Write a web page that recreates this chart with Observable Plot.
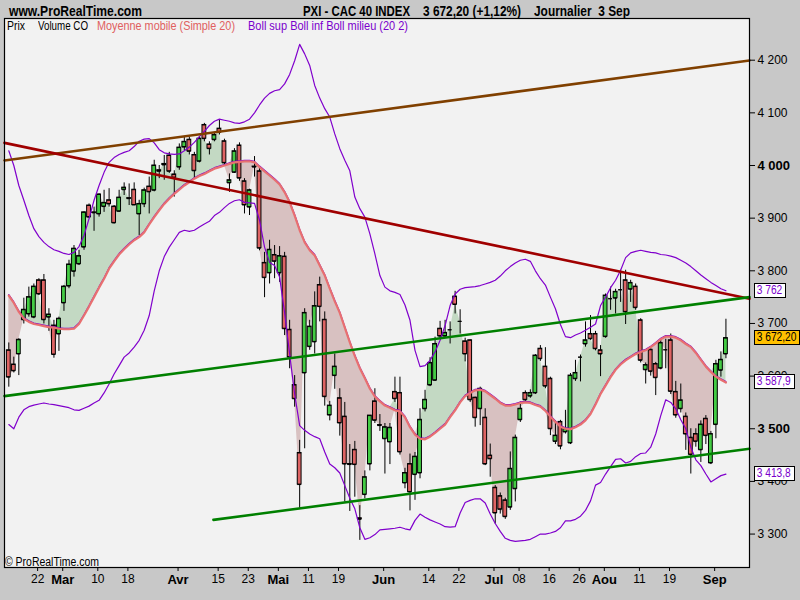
<!DOCTYPE html>
<html><head><meta charset="utf-8">
<script src="https://cdn.jsdelivr.net/npm/d3@7"></script>
<script src="https://cdn.jsdelivr.net/npm/@observablehq/plot@0.6"></script>
<style>
html,body{margin:0;padding:0;}
body{background:#c8c8c8;width:800px;height:600px;overflow:hidden;position:relative;font-family:Arial,"Liberation Sans",sans-serif;}
#chart{position:absolute;left:0;top:0;}
.abs{position:absolute;white-space:pre;line-height:1;display:inline-block;transform-origin:0 50%;}
.hdr{top:3px;font-weight:bold;font-size:15px;color:#000;}
.leg{top:20px;font-size:12.5px;}
.tag{position:absolute;left:754px;height:13px;line-height:13px;border:1px solid #000;font-size:12px;white-space:pre;overflow:hidden;}
.tag span{display:inline-block;transform-origin:0 50%;transform:scaleX(0.85);padding-left:2px;}
</style></head><body>
<div id="chart"></div>
<script>
// ---- data (CAC 40, daily, 12 Feb - 3 Sep 2010; index k = trading day) ----
const opens = [3649,3622,3642,3707,3718,3712,3782,3782,3712,3696,3680,3739,3771,3799,3813,3845,3924,3911,3908,3922,3934,3922,3913,3954,3938,3954,3908,
3927,3960,3953,3991,4001,4019,3983,3997,4035,4049,4020,4008,4077,4040,4049,4070,4046,3967,3987,4038,3970,3921,3997,3989,
3815,3796,3830,3796,3827,3688,3583,3454,3606,3656,3665,3773,3707,3526,3601,3558,3523,3433,3460,3330,3375,3433,3552,3507,3481,3475,3570,3568,
3397,3433,3413,3416,3538,3583,3592,3690,3676,3688,3751,3704,3666,3668,3559,3538,3521,3449,3388,3372,3364,3351,3386,3517,3568,3562,3568,3652,3618,3595,3476,
3513,3494,3473,3595,3636,3661,3680,3680,3649,3675,3747,3748,3764,3782,3765,3770,
3706,3612,3650,3623,3615,3650,3668,3570,3538,3523,3483,3490,3460,3519,3435,3508,3611,3642];
const highs = [3663,3636,3671,3748,3769,3775,3785,3793,3728,3706,3712,3772,3820,3848,3839,3912,3927,3921,3946,3953,3956,3924,3953,3967,3965,3967,3934,
3957,3978,4010,4000,4019,4025,3990,4041,4055,4054,4025,4055,4080,4045,4062,4086,4050,3984,4032,4043,3975,3955,4017,3995,
3835,3858,3848,3846,3835,3706,3601,3478,3728,3706,3760,3788,3722,3552,3642,3576,3550,3470,3476,3354,3420,3525,3576,3527,3510,3510,3598,3598,
3425,3452,3455,3538,3573,3635,3674,3704,3706,3703,3761,3726,3672,3669,3560,3579,3538,3471,3392,3378,3368,3456,3488,3551,3572,3574,3641,3658,3654,3598,3515,
3516,3535,3605,3630,3640,3703,3715,3685,3658,3756,3769,3765,3801,3801,3782,3775,
3709,3625,3652,3626,3670,3670,3680,3590,3585,3530,3500,3500,3515,3525,3495,3630,3646,3708];
const lows = [3579,3606,3601,3699,3712,3709,3753,3699,3685,3634,3647,3723,3766,3788,3810,3839,3899,3875,3902,3911,3921,3889,3911,3943,3924,3924,3867,
3920,3908,3950,3975,3972,3985,3940,3991,4028,4020,3975,4005,4045,4020,4045,4058,4000,3949,3985,3970,3908,3905,3978,3838,
3749,3775,3785,3778,3677,3614,3541,3349,3462,3649,3642,3703,3543,3515,3575,3486,3361,3343,3370,3288,3367,3420,3510,3495,3414,3432,3550,3450,
3386,3344,3364,3405,3532,3580,3590,3670,3672,3661,3718,3680,3627,3550,3503,3506,3430,3408,3319,3338,3328,3345,3361,3512,3550,3558,3565,3628,3576,3487,3470,
3460,3490,3470,3590,3589,3655,3668,3648,3599,3672,3725,3718,3740,3698,3740,3725,
3625,3585,3600,3563,3612,3614,3565,3520,3530,3459,3414,3465,3436,3470,3432,3481,3598,3633];
const closes = [3598,3610,3669,3726,3750,3770,3756,3707,3717,3641,3709,3770,3812,3842,3828,3911,3902,3910,3945,3929,3927,3891,3939,3958,3937,3925,3927,
3953,3950,4000,3989,4003,3989,3977,4034,4045,4027,3990,4051,4051,4032,4058,4063,4005,3972,4027,3976,3925,3953,3998,3843,
3787,3840,3818,3828,3690,3636,3557,3394,3720,3694,3733,3732,3561,3544,3618,3511,3433,3432,3432,3328,3408,3525,3516,3506,3503,3502,3557,3456,
3416,3380,3447,3517,3555,3625,3661,3676,3682,3688,3736,3704,3642,3555,3521,3576,3433,3443,3340,3347,3333,3424,3483,3538,3555,3568,3639,3633,3581,3500,3487,
3467,3500,3601,3606,3636,3668,3671,3652,3642,3753,3747,3760,3764,3722,3777,3730,
3630,3621,3609,3597,3663,3650,3571,3526,3554,3490,3451,3476,3508,3487,3490,3623,3631,3672.2];
// Moyenne mobile simple 20 (= Boll milieu)
const ma20 = [3753,3739,3722,3709,3703,3699,3697,3695,3693,3692,3690,3689,3689,3690,3699,3715,3732,3750,3768,3785,3804,3818,3831,3841,3850,3858,3864,
3873,3888,3902,3915,3927,3937,3946,3954,3962,3968,3975,3980,3984,3989,3994,3997,4000,4003,4006,4007,4008,4008,4006,3997,
3989,3981,3973,3964,3949,3930,3905,3877,3854,3839,3829,3810,3791,3766,3742,3720,3692,3664,3638,3615,3596,3576,3561,3552,3544,3540,3535,3533,
3522,3503,3489,3481,3480,3485,3492,3500,3508,3522,3535,3550,3562,3568,3573,3574,3571,3564,3557,3549,3544,3544,3546,3549,3550,3549,3545,3542,3534,3523,3513,
3504,3500,3499,3503,3508,3516,3528,3546,3566,3582,3598,3612,3622,3630,3636,3642,
3646,3649,3655,3662,3670,3675,3675,3673,3668,3661,3655,3644,3631,3618,3608,3599,3593,3587.9];
// Boll sup / Boll inf (20, 2)
const bollUp = [4028,4000,3962,3934,3905,3880,3865,3854,3846,3840,3837,3833,3831,3835,3846,3867,3899,3934,3962,3987,4006,4015,4021,4025,4028,4036,4046,
4050,4051,4043,4030,4024,4022,4021,4022,4028,4035,4044,4055,4065,4076,4084,4088,4086,4084,4081,4080,4083,4088,4100,4115,
4128,4137,4142,4144,4155,4173,4199,4230,4212,4190,4152,4128,4108,4092,4060,4032,4010,3990,3940,3918,3902,3870,3832,3791,3769,3762,3759,3755,
3735,3706,3649,3618,3620,3630,3646,3668,3696,3734,3756,3765,3768,3769,3770,3772,3775,3778,3782,3790,3800,3808,3815,3820,3822,3818,3800,3785,3773,3750,3728,
3698,3675,3673,3678,3682,3687,3693,3699,3734,3750,3768,3782,3801,3825,3834,3837,
3839,3837,3835,3834,3831,3830,3828,3825,3820,3815,3808,3800,3792,3785,3778,3772,3766,3762];
const bollDown = [3508,3500,3522,3536,3542,3545,3547,3549,3547,3546,3544,3542,3540,3536,3535,3539,3543,3549,3554,3568,3585,3604,3620,3636,3644,3655,3668,
3687,3715,3762,3800,3827,3845,3859,3873,3877,3875,3877,3883,3889,3894,3905,3911,3920,3928,3933,3935,3930,3929,3928,3896,
3845,3816,3810,3788,3720,3642,3566,3506,3497,3490,3485,3481,3456,3433,3426,3416,3392,3368,3348,3312,3290,3293,3299,3308,3309,3310,3311,3313,
3310,3308,3326,3338,3332,3327,3323,3319,3314,3313,3314,3340,3360,3364,3367,3367,3359,3338,3320,3305,3292,3288,3286,3287,3288,3290,3295,3300,3300,3302,3305,
3312,3325,3325,3328,3334,3345,3363,3393,3398,3414,3428,3442,3443,3435,3438,3447,
3453,3454,3465,3490,3525,3555,3550,3538,3517,3500,3465,3441,3430,3414,3399,3405,3411,3413.8];
// trend lines drawn on the chart (start/end in trading-day index and index level)
const trendStartK = [-0.86, -0.86, -0.86, 40.8];
const trendStartV = [4009.6, 4043, 3562, 3327];
const trendEndK = [147.7, 147.7, 147.7, 147.7];
const trendEndV = [4199.5, 3747, 3750, 3462];
const trendColors = ["#804000", "#a00000", "#008000", "#008000"];
// x axis tick labels (trading-day index of each labelled date)
const dayTickK = [6, 18, 24, 42, 48, 60, 66, 84, 90, 102, 108, 114, 126, 132];
const dayTickLabels = ["22","10","18","15","23","11","19","14","22","08","16","26","11","19"];
const monthTickK = [11, 34, 54, 75, 97, 119, 141];
const monthTickLabels = ["Mar","Avr","Mai","Jun","Jul","Aou","Sep"];
// y axis ticks
const yTicksNormal = [3300, 3400, 3600, 3700, 3800, 3900, 4100, 4200];
const yTicksBold = [3500, 4000];
// last values shown in the price tags
const tagValues = [3762, 3672.20, 3587.9, 3413.8];
const tagTexts = ["3 762", "3 672,20", "3 587,9", "3 413,8"];
const tagColors = ["#7a00cc", "#000000", "#7a00cc", "#7a00cc"];
const tagBgs = ["#ffffff", "#ffc000", "#ffffff", "#ffffff"];

// ---- build ----
const FONT = 'Arial,"Liberation Sans",sans-serif';
const candles = opens.map((o, i) => ({k: i, o, h: highs[i], l: lows[i], c: closes[i], ma: ma20[i], up: bollUp[i], dn: bollDown[i]}));
const trends = trendColors.flatMap((col, i) => [
  {id: i, k: trendStartK[i], v: trendStartV[i], col},
  {id: i, k: trendEndK[i], v: trendEndV[i], col}
]);
const fmt = v => d3.format(",")(v).replace(/,/g, " ");
const dayPos = dayTickK.map(k => k - 0.25);
const monPos = monthTickK.map(k => k - 0.25);
const dayMap = new Map(dayPos.map((p, i) => [p, dayTickLabels[i]]));
const monMap = new Map(monPos.map((p, i) => [p, monthTickLabels[i]]));
const HW = 0.38;

const chart = Plot.plot({
  width: 800, height: 600,
  marginLeft: 4, marginRight: 51, marginTop: 18, marginBottom: 33,
  style: {background: "transparent", fontFamily: FONT, fontSize: "12px", color: "#000"},
  x: {type: "linear", domain: [-0.857, 147.7], axis: null},
  y: {type: "linear", domain: [3236.5, 4279.2], axis: null},
  color: {type: "identity"},
  marks: [
    Plot.frame({fill: "#f2f2f2", stroke: "none"}),
    Plot.areaY(candles, {x: "k", y1: "ma", y2: d => Math.max(d.c, d.ma), fill: "#c3d9c3"}),
    Plot.areaY(candles, {x: "k", y1: "ma", y2: d => Math.min(d.c, d.ma), fill: "#d8c1c1"}),
    Plot.ruleX(candles, {x: "k", y1: "l", y2: "h", stroke: "#000", strokeWidth: 1}),
    Plot.rect(candles, {x1: d => d.k - HW, x2: d => d.k + HW, y1: "o", y2: "c",
      fill: d => d.c >= d.o ? "#44cc44" : "#de6464", stroke: "#000", strokeWidth: 1}),
    Plot.ruleY(candles, {x1: d => d.k - HW, x2: d => d.k + HW, y: "o", stroke: "#000"}),
    Plot.ruleY(candles, {x1: d => d.k - HW, x2: d => d.k + HW, y: "c", stroke: "#000"}),
    Plot.line(candles, {x: "k", y: "up", stroke: "#8000cc", strokeWidth: 1.2}),
    Plot.line(candles, {x: "k", y: "dn", stroke: "#8000cc", strokeWidth: 1.2}),
    Plot.line(candles, {x: "k", y: "ma", stroke: "#8000cc", strokeWidth: 1.2, dy: -1}),
    Plot.line(candles, {x: "k", y: "ma", stroke: "#e87070", strokeWidth: 2.2}),
    Plot.line(trends, {x: "k", y: "v", z: "id", stroke: "col", strokeWidth: 2.6}),
    Plot.frame({stroke: "#000", strokeWidth: 1.2}),
    Plot.axisY({anchor: "right", ticks: yTicksNormal, tickSize: 5, tickPadding: 3, tickFormat: fmt, label: null, fontSize: 12, stroke: "#000"}),
    Plot.axisY({anchor: "right", ticks: yTicksBold, tickSize: 5, tickPadding: 3, tickFormat: fmt, label: null, fontSize: 13, fontWeight: "bold", stroke: "#000"}),
    Plot.axisX({anchor: "bottom", ticks: dayPos, tickSize: 4, tickPadding: 3, tickFormat: d => dayMap.get(d), label: null, fontSize: 12, stroke: "#000"}),
    Plot.axisX({anchor: "bottom", ticks: monPos, tickSize: 4, tickPadding: 3, tickFormat: d => monMap.get(d), label: null, fontSize: 13, fontWeight: "bold", stroke: "#000"})
  ]
});
document.getElementById("chart").appendChild(chart);

// overlays: header, legend, copyright, price tags (each text squeezed to the reference's narrow width)
function addText(txt, cls, left, width, top, color) {
  const d = document.createElement("div");
  d.className = "abs " + cls;
  d.textContent = txt;
  d.style.left = left + "px";
  if (top != null) d.style.top = top + "px";
  if (color) d.style.color = color;
  document.body.appendChild(d);
  const w = d.getBoundingClientRect().width;
  if (w > 0) d.style.transform = "scaleX(" + (width / w) + ")";
}
addText("www.ProRealTime.com", "hdr", 9, 133, null);
addText("PXI - CAC 40 INDEX", "hdr", 303, 107, null);
addText("3 672,20 (+1,12%)", "hdr", 423, 98, null);
addText("Journalier  3 Sep", "hdr", 534, 96, null);
addText("Prix", "leg", 7, 18, null, "#000");
addText("Volume CO", "leg", 38, 50, null, "#000");
addText("Moyenne mobile (Simple 20)", "leg", 97, 138, null, "#e06060");
addText("Boll sup Boll inf Boll milieu (20 2)", "leg", 248, 160, null, "#7a00cc");
addText("\u00a9 ProRealTime.com", "leg", 5, 94, 556, "#000");
const ys = chart.scale("y");
tagValues.forEach((v, i) => {
  const d = document.createElement("div");
  d.className = "tag";
  const s = document.createElement("span");
  s.textContent = tagTexts[i];
  d.appendChild(s);
  d.style.top = (ys.apply(v) - 7.5) + "px";
  d.style.color = tagColors[i];
  d.style.background = tagBgs[i];
  document.body.appendChild(d);
  const w = s.getBoundingClientRect().width;
  d.style.width = Math.round(w + 3) + "px";
});
</script>
</body></html>
